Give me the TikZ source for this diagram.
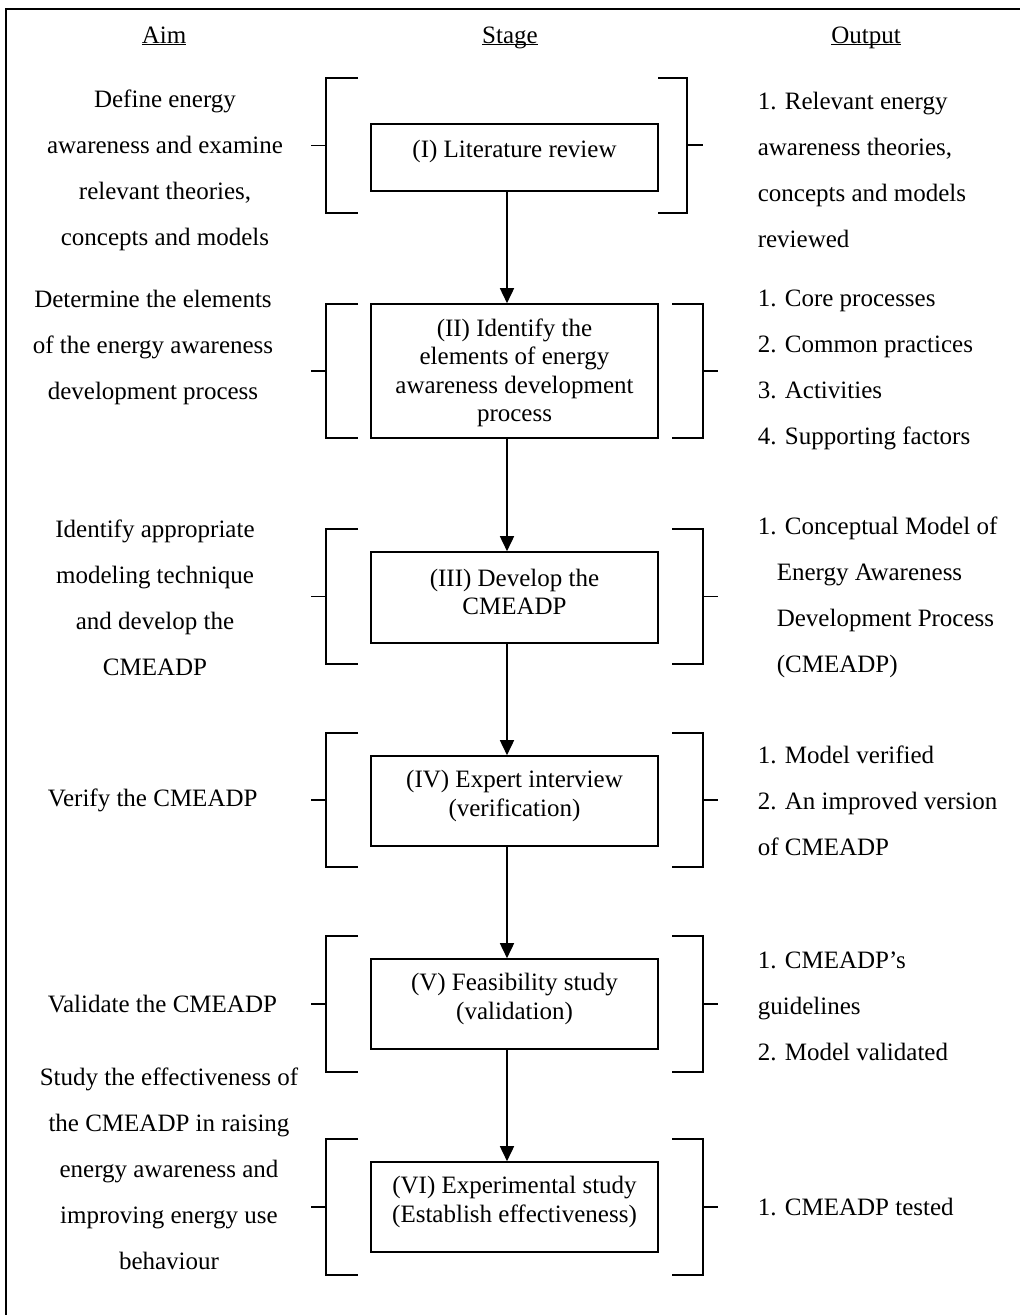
\documentclass[tikz,border=0pt]{standalone}
\usepackage{fontspec}
\setmainfont{Liberation Serif}
\usetikzlibrary{arrows.meta}
% underline sitting just below the baseline, whatever the descenders
\newcommand\headline[1]{\underline{\smash{#1}}}
\begin{document}
\begin{tikzpicture}[x=1pt,y=-1pt,line width=1.6pt,
  txt/.style={font=\fontsize{25}{46}\selectfont, inner sep=0pt},
  aimtxt/.style={txt, align=center},
  outtxt/.style={txt, align=left, anchor=west},
  head/.style={font=\fontsize{25}{30}\selectfont, inner sep=0pt, anchor=base},
  stagebox/.style={draw, minimum width=287pt, inner sep=0pt},
  stagetxt/.style={font=\fontsize{25}{28.5}\selectfont, align=center, inner sep=0pt},
  flow/.style={-{Triangle[length=15pt,width=14pt]}}
]
\useasboundingbox (0,0) rectangle (1020,1315);

% page frame (top and left edges)
\coordinate (frameTR) at (1020,9);
\coordinate (frameTL) at (6,9);
\coordinate (frameBL) at (6,1315);
\draw (frameTR) -- (frameTL) -- (frameBL);

% column headings
\node[head] (hAim)    at (164,43) {\headline{Aim}};
\node[head] (hStage)  at (510,43) {\headline{Stage}};
\node[head] (hOutput) at (866,43) {\headline{Output}};

% stage boxes
\node[stagebox, minimum height=67pt]  (s1) at (514.5,157.5) {};
\node[stagebox, minimum height=134pt] (s2) at (514.5,371) {};
\node[stagebox, minimum height=91pt]  (s3) at (514.5,597.5) {};
\node[stagebox, minimum height=90pt]  (s4) at (514.5,801) {};
\node[stagebox, minimum height=90pt]  (s5) at (514.5,1004) {};
\node[stagebox, minimum height=90pt]  (s6) at (514.5,1207) {};

\node[stagetxt] (t1) at (514.5,151) {(I) Literature review};
\node[stagetxt] (t2) at (514.5,373) {(II) Identify the\\elements of energy\\awareness development\\process};
\node[stagetxt] (t3) at (514.5,592) {(III) Develop the\\CMEADP};
\node[stagetxt] (t4) at (514.5,796) {(IV) Expert interview\\(verification)};
\node[stagetxt] (t5) at (514.5,999) {(V) Feasibility study\\(validation)};
\node[stagetxt] (t6) at (514.5,1202) {(VI) Experimental study\\(Establish effectiveness)};

% flow arrows between stages
\foreach \a/\b in {s1/s2,s2/s3,s3/s4,s4/s5,s5/s6}
  \draw[flow] ([xshift=-7.5pt]\a.south) -- ([xshift=-7.5pt]\b.north);

% brackets around each stage: top, bottom, middle tick
\foreach \top/\bot in {78/213,304/438,529/664,733/867,936/1072,1139/1275}{
  \pgfmathsetmacro\mid{(\top+\bot)/2}
  \draw (358,\top) -- (326,\top) -- (326,\bot) -- (358,\bot);
  \draw (311,\mid) -- (326,\mid);
}
\foreach \top/\bot in {304/438,529/664,733/867,936/1072,1139/1275}{
  \pgfmathsetmacro\mid{(\top+\bot)/2}
  \draw (672,\top) -- (703,\top) -- (703,\bot) -- (672,\bot);
  \draw (703,\mid) -- (718,\mid);
}
\draw (658,78) -- (687,78) -- (687,213) -- (658,213);
\draw (687,145) -- (703,145);

% aims
\node[aimtxt] (a1) at (165,170) {Define energy\\awareness and examine\\relevant theories,\\concepts and models};
\node[aimtxt] (a2) at (153,347) {Determine the elements\\of the energy awareness\\development process};
\node[aimtxt] (a3) at (155,597.5) {Identify appropriate\\modeling technique\\and develop the\\CMEADP};
\node[txt, anchor=west] (a4) at (47,800) {Verify the CMEADP};
\node[txt, anchor=west] (a5) at (47,1004) {Validate the CMEADP};
\node[aimtxt] (a6) at (169,1169) {Study the effectiveness of\\the CMEADP in raising\\energy awareness and\\improving energy use\\behaviour};

% outputs
\node[outtxt] (o1) at (757,170) {1. Relevant energy\\awareness theories,\\concepts and models\\reviewed};
\node[outtxt] (o2) at (757,370) {1. Core processes\\2. Common practices\\3. Activities\\4. Supporting factors};
\node[outtxt] (o3) at (757,597.5) {1. Conceptual Model of\\\hspace*{19pt}Energy Awareness\\\hspace*{19pt}Development Process\\\hspace*{19pt}(CMEADP)};
\node[outtxt] (o4) at (757,801) {1. Model verified\\2. An improved version\\of CMEADP};
\node[outtxt] (o5) at (757,1006) {1. CMEADP's\\guidelines\\2. Model validated};
\node[txt, anchor=west] (o6) at (757,1207) {1. CMEADP tested};
\end{tikzpicture}
\end{document}
